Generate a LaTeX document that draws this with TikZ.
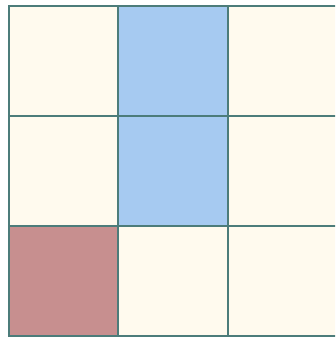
\documentclass[tikz,border=0pt]{standalone}
\definecolor{cream}{HTML}{FFFAEE}
\definecolor{cellblue}{HTML}{A6CAF1}
\definecolor{cellred}{HTML}{C78F8F}
\definecolor{gridline}{HTML}{4C7C7A}
\tikzset{gridrule/.style={draw=gridline,line width=2.2pt,line cap=rect}}
\begin{document}
\begin{tikzpicture}[x=1pt,y=-1pt]
\useasboundingbox (0,0) rectangle (335,337);
\clip (0,0) rectangle (335,337);
\def\csx{109.3}
\def\csy{110}
\foreach \r in {0,1,2}{
  \foreach \c in {0,1,2}{
    \pgfmathsetmacro{\xa}{9+\c*\csx}
    \pgfmathsetmacro{\ya}{6+\r*\csy}
    \pgfmathsetmacro{\xb}{9+(\c+1)*\csx}
    \pgfmathsetmacro{\yb}{6+(\r+1)*\csy}
    \def\fc{cream}
    \ifnum\c=1 \ifnum\r<2 \def\fc{cellblue}\fi\fi
    \ifnum\c=0 \ifnum\r=2 \def\fc{cellred}\fi\fi
    \fill[\fc] (\xa,\ya) rectangle (\xb,\yb);
  }
}
\foreach \c in {0,1,2}{
  \pgfmathsetmacro{\xa}{9+\c*\csx}
  \draw[gridrule] (\xa,6) -- (\xa,336);
}
\foreach \r in {0,1,2,3}{
  \pgfmathsetmacro{\ya}{6+\r*\csy}
  \draw[gridrule] (9,\ya) -- (340,\ya);
}
\end{tikzpicture}
\end{document}
